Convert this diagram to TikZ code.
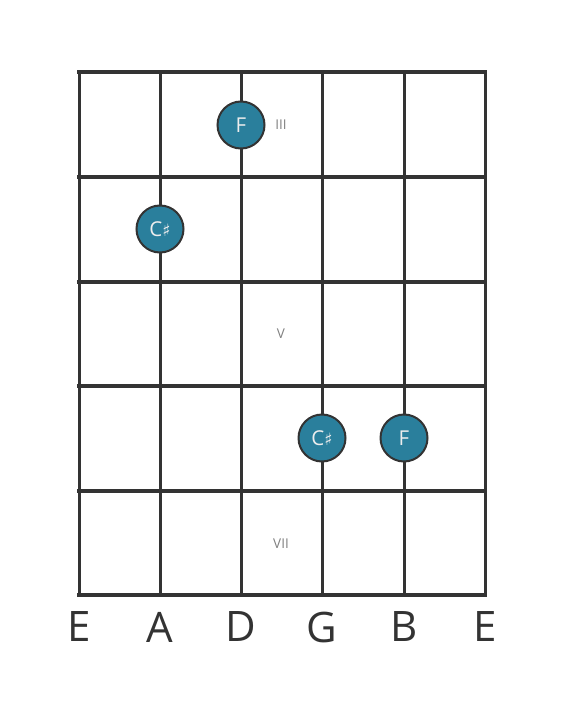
\documentclass[tikz,border=0pt]{standalone}
\usepackage{fontspec}
\setmainfont{Open Sans}
\newfontfamily\symfont{DejaVu Sans}
\usepackage{xcolor}
\usetikzlibrary{positioning}
\definecolor{dotblue}{HTML}{2A7F9C}
\definecolor{gridgray}{HTML}{333333}
\newcommand{\sharpsign}{{\symfont\fontsize{17}{17}\selectfont ♯}}
\tikzstyle{fret} = [line width=4.5pt, draw=gridgray, line cap=rect]
\tikzstyle{string} = [line width=3pt, draw=gridgray]
\tikzstyle{note} = [circle, minimum size=47pt, inner sep=0pt, fill=dotblue, draw=gridgray, line width=2pt, text=white!93!black, font=\fontsize{20.5}{20.5}\selectfont]
\tikzstyle{numeral} = [text=gray, font=\fontsize{13.5}{13.5}\selectfont]
\tikzstyle{stringname} = [text=gridgray, font=\fontsize{42}{42}\selectfont]

\begin{document}
\begin{tikzpicture}[x=1pt, y=-1pt]
\useasboundingbox (0,0) rectangle (566,711);

% strings
\coordinate (s1t) at (79,72);  \coordinate (s1b) at (79,595);
\coordinate (s2t) at (160,72); \coordinate (s2b) at (160,595);
\coordinate (s3t) at (241,72); \coordinate (s3b) at (241,595);
\coordinate (s4t) at (322,72); \coordinate (s4b) at (322,595);
\coordinate (s5t) at (404,72); \coordinate (s5b) at (404,595);
\coordinate (s6t) at (485,72); \coordinate (s6b) at (485,595);

\draw [string] (s1t) -- (s1b);
\draw [string] (s2t) -- (s2b);
\draw [string] (s3t) -- (s3b);
\draw [string] (s4t) -- (s4b);
\draw [string] (s5t) -- (s5b);
\draw [string] (s6t) -- (s6b);

% frets
\coordinate (f0l) at (79,72);  \coordinate (f0r) at (485,72);
\coordinate (f1l) at (79,177); \coordinate (f1r) at (485,177);
\coordinate (f2l) at (79,282); \coordinate (f2r) at (485,282);
\coordinate (f3l) at (79,386); \coordinate (f3r) at (485,386);
\coordinate (f4l) at (79,491); \coordinate (f4r) at (485,491);
\coordinate (f5l) at (79,595); \coordinate (f5r) at (485,595);

\draw [fret] (f0l) -- (f0r);
\draw [fret] (f1l) -- (f1r);
\draw [fret] (f2l) -- (f2r);
\draw [fret] (f3l) -- (f3r);
\draw [fret] (f4l) -- (f4r);
\draw [fret] (f5l) -- (f5r);

% fret numbers
\node (n3) [numeral] at (281,125) {III};
\node (n5) [numeral] at (281,334) {V};
\node (n7) [numeral] at (281,544) {VII};

% notes
\node (d1) [note] at (241,125) {F};
\node (d2) [note] at (160,229) {C\sharpsign};
\node (d3) [note] at (322,438) {C\sharpsign};
\node (d4) [note] at (404,438) {F};

% string names
\node (l1) [stringname] at (79,627) {E};
\node (l2) [stringname] at (160,627) {A};
\node (l3) [stringname] at (241,627) {D};
\node (l4) [stringname] at (322,627) {G};
\node (l5) [stringname] at (404,627) {B};
\node (l6) [stringname] at (485,627) {E};
\end{tikzpicture}
\end{document}
